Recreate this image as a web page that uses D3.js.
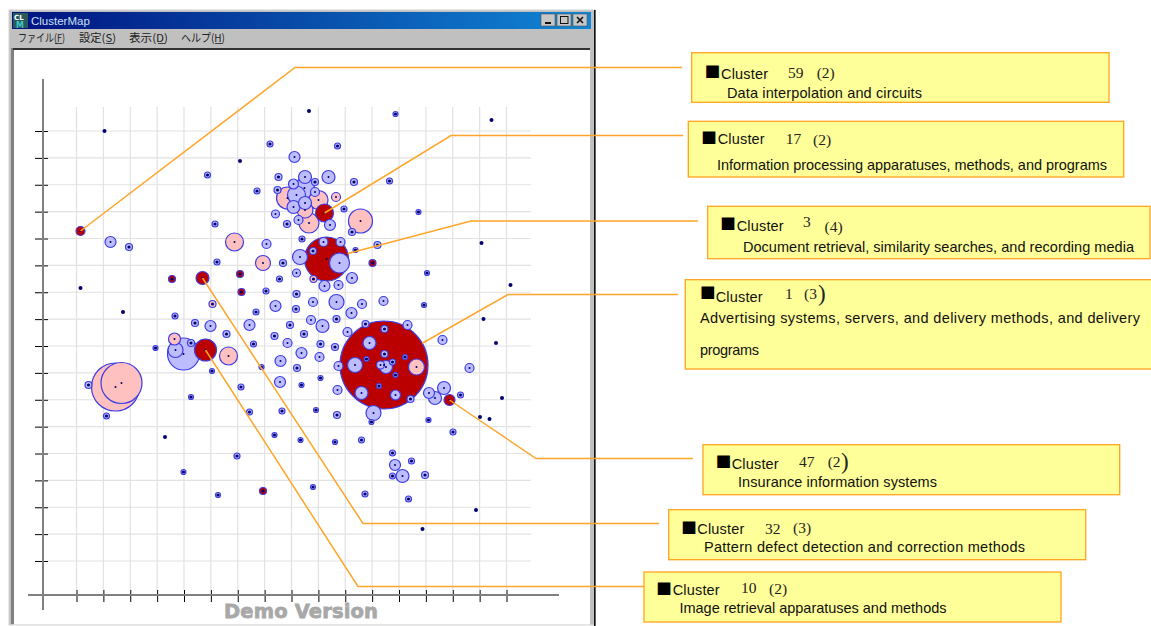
<!DOCTYPE html>
<html>
<head>
<meta charset="utf-8">
<title>ClusterMap</title>
<script src="https://cdn.jsdelivr.net/npm/d3@7"></script>
<style>
  html, body { margin: 0; padding: 0; background: #fff; }
  svg { display: block; }
  .cluster-word, .desc { font-family: "Liberation Sans", Arial, sans-serif; font-size: 14.5px; fill: #111; }
  .num { font-family: "Liberation Serif", serif; font-size: 15.5px; fill: #222; }
  .menu { font-family: "Noto Sans CJK JP", sans-serif; font-size: 11px; fill: #222; }
  .demo { font-family: "DejaVu Sans", sans-serif; font-weight: bold; font-size: 19.5px; fill: #a8a8a8; stroke: #a8a8a8; stroke-width: .8px; }
</style>
</head>
<body>
<svg id="chart" width="1151" height="626"></svg>
<script>
// map positions: [x, y, radius]
const redClusters = [
  [307.5,196,44],[250,302,22],[248,348,9],[129,211,11],[126,283,6.5],[4,330,4.5],[373,161,5.5],
  [95.5,282,3.5],[163.5,287,3.5],[165,269,3.5],[296,298,3.5],[186.5,70,3.5]
]
const pinkClusters = [
  [39,174,24],[45,178,20.5],[158,319,9],[186.5,298,7.5],[98,222,6],[152,205,9],[136,257,3.5],
  [284,340,12],[232.5,338,10],[211,363,11],[242,361,9.5],[259.5,364,4.5],[340,194,8],[237,282,3.5],[228.5,351,8]
]
const blueClusters = [
  [218,404,5.5],[202,384,3.5],[201,371,3.5],[199,347,4],[210.5,337,3.5],[228.5,384,6.5],[252,384,6.5],
  [238.5,379,3.5],[277.5,379,3.5],[228,373,10],[217,377,5],[220,366,9],[238.5,369,4.5],[217,354,6.5],
  [228.5,358,6.5],[222,341,4.5],[253.5,336,5.5],[267.5,352,3],[275.5,329,3.5],[261,415,3],
  [193.5,417,3],[131,386,3],[180.5,370,3],[319,447,2.5],[313,380,3],
  [34,319,5.5],[52.5,314,3.5],[138.5,337,3],[190,317,4.5],[140.5,299,3],[206.5,298,3.5],[203,282,3],
  [189.5,270,3],[220,288,4],[220,267,3.5],[219.5,252,3.5],[199,255,5.5],[179.5,249,3],[98.5,245,3],
  [118.5,238,3.5],[134,235,5.5],[173,236,5.5],[213.5,236,3.5],[150,227,3.5],[198,225,3.5],[177,217,3],
  [211,218,4.5],[79,213,2.5],[114.5,218,3.5],[107,207,16],[99,211,7.5],[204,200,5.5],[225,208,5.5],
  [220.5,193,3.5],[185,194,2.5],[135.5,190,2.5],[203.5,179,5.5],[225,176,2.5],[12,176,3.5],[164.5,174,3],
  [114.5,164,2.5],[173,149,3],[205.5,150,3],[30,145,3],
  [225.5,322,3],[223.5,304,7.5],[247,319,4.5],[264,319,4.5],[236.5,310,3.5],[263,298,10],[279,311,2.5],
  [301,316,3.5],[248,275,5.5],[262,276,4.5],[275.5,283,5.5],[236.5,259,4.5],[260,259,7.5],[285.5,257,4.5],
  [275,248,5.5],[234.5,241,4.5],[260,242,3.5],[246,235,6.5],[227.5,227,3.5],[244,217,3.5],[258.5,214,3.5],
  [243,204,4.5],[244,183,2.5],[261,171,4.5],[262,195,4.5],[271,229,4.5],[239.5,151,2.5],[260.5,146,3.5],
  [198,126,2.5],[224,121,2.5],[258.5,119,2.5],[342,349,2.5],[350.5,288,2.5],[347.5,256,2.5],[307,260,4.5],
  [289,237,3.5],[331,236,4.5],[366,221,4.5],[393,193,4.5],[384,166,3],[367.5,173,6.5],[352.5,168,5.5],
  [358.5,163,6.5],[297,148,7.5],[352,141,2.5],
  [308,232,3.5],[293,218,6.5],[308,207,3.5],[290,202,2.5],[328.5,204,2.5],[316,199,3],[278.5,196,7.5],
  [304,196,4],[309.5,194,6.5],[319,186,2.5],[302.5,175,2.5],[285,168,6.5],[319,166,5],[334,162,3.5],
  [295,139,2.5],[107,89,2.5],[160.5,105,3],[141.5,66,2.5],[285,121,3],[376.5,129,3],[316,108,3],
  [335,100,3],[318.5,96,5.5],[316,85,3],[326,85,6.5],[348.5,86,3.5],[236.5,74,2.5],[288.5,67,3],[332,62,3]
]
const tinyClusters = [
  [28,430,2],[163.5,400,2],[232.5,450,2],[415,441,2],[4,273,2],[46.5,249,2],[405,318,2],[434,276,2],
  [407,242,2],[419.5,218,2],[425.5,163,2],[403.5,144,2],[413,142,2],[88.5,124,2],[399.5,51,2],[346,32,2]
]

const calloutIds = ['59', '17', '3', '1', '47', '32', '10']
const calloutCounts = ['(2)', '(2)', '(4)', '(3', '(2', '(3)', '(2)']
const calloutTitles = [
  ['Data interpolation and circuits'],
  ['Information processing apparatuses, methods, and programs'],
  ['Document retrieval, similarity searches, and recording media'],
  ['Advertising systems, servers, and delivery methods, and delivery', 'programs'],
  ['Insurance information systems'],
  ['Pattern defect detection and correction methods'],
  ['Image retrieval apparatuses and methods']
]
const calloutCluster = [5, 2, 1, 0, 6, 4, 3]  // index into redClusters

const menuLabels = ['ファイル(F)', '設定(S)', '表示(D)', 'ヘルプ(H)']
const menuX = [18, 79, 129, 181]
const menuWidth = [47, 37, 39, 44]

// box: x, y, right, bottom. square/word/id/count x and baselines, desc x and baselines + widths, elbow
const boxLayout = [
  { b: [691.7, 52.7, 1109, 102.3], sq: [706.5, 65], w: [721, 78.5], n: [788, 78], c: [816.7, 78], d: [727, [98.3], [195]], elbow: [295, 67.5], end: 682 },
  { b: [688.3, 121.3, 1123.7, 177], sq: [703, 131], w: [717.7, 144], n: [785.7, 143.5], c: [813, 145], d: [717, [170], [390]], elbow: [451, 135.5], end: 683 },
  { b: [707.7, 206.3, 1150, 258.7], sq: [722, 217], w: [736.7, 230.7], n: [803, 227], c: [824.5, 232], d: [743, [252], [391]], elbow: [471, 221], end: 698, edge: true },
  { b: [685.3, 279.7, 1156, 369], sq: [701.7, 286.7], w: [715.7, 302], n: [785, 299], c: [804, 299], d: [700, [323.3, 355], [440, 59]], elbow: [508, 294.5], end: 678, edge: true, paren: [818, 301] },
  { b: [703, 444.7, 1119.7, 494.7], sq: [717.5, 455], w: [731.7, 469], n: [799, 467], c: [827.7, 467], d: [738, [487], [199]], elbow: [536, 458.5], end: 693, paren: [841, 469] },
  { b: [668.7, 509.7, 1085.7, 559.7], sq: [683, 521], w: [697.3, 534], n: [765, 534], c: [793, 533], d: [704, [552], [321]], elbow: [363, 523.5], end: 659 },
  { b: [644, 572, 1061, 622], sq: [658, 582], w: [672.7, 595], n: [741, 593], c: [769, 594], d: [679.5, [613], [267]], elbow: [358, 586.5], end: 644 }
]

const svg = d3.select('#chart')

const x = d3.scaleLinear().domain([0, 430]).range([76.5, 506.5])
const y = d3.scaleLinear().domain([0, 430]).range([561, 131])
const r = d3.scaleLinear().domain([0, 44]).range([0, 44])
const tickVals = d3.range(17).map(i => i * 430 / 16)

// window frame
svg.append('rect').attr('x', 9).attr('y', 10).attr('width', 586).attr('height', 615)
  .attr('fill', '#c0c0c0').attr('stroke', '#d4d4d4')
svg.append('rect').attr('x', 594).attr('y', 10).attr('width', 1.6).attr('height', 616).attr('fill', '#111')
svg.append('rect').attr('x', 11).attr('y', 48).attr('width', 3).attr('height', 576).attr('fill', '#808080')

const defs = svg.append('defs')
const grad = defs.append('linearGradient').attr('id', 'titlebar')
grad.append('stop').attr('offset', 0).attr('stop-color', '#00127f')
grad.append('stop').attr('offset', 1).attr('stop-color', '#1086d4')
// the source is a slightly soft screenshot
defs.append('filter').attr('id', 'soft').append('feGaussianBlur').attr('stdDeviation', 0.35)
svg.append('rect').attr('x', 12).attr('y', 12).attr('width', 579).attr('height', 17).attr('fill', 'url(#titlebar)')

// title icon
svg.append('rect').attr('x', 13).attr('y', 13).attr('width', 15).attr('height', 15).attr('fill', '#2a5a5a')
svg.append('text').attr('x', 14).attr('y', 20).attr('font-family', 'DejaVu Sans').attr('font-weight', 'bold')
  .attr('font-size', 7).attr('fill', '#fff').text('CL')
svg.append('text').attr('x', 16).attr('y', 27.5).attr('font-family', 'DejaVu Sans').attr('font-weight', 'bold')
  .attr('font-size', 8).attr('fill', '#38c8c8').text('M')
svg.append('text').attr('x', 31).attr('y', 25).attr('font-family', 'Liberation Sans').attr('font-size', 11.5)
  .attr('fill', '#cfe0f5').text('ClusterMap')

// window buttons
const buttonX = [541, 557, 573]
svg.selectAll('.winbtn').data(buttonX).join('rect').attr('class', 'winbtn')
  .attr('x', d => d).attr('y', 14).attr('width', 14).attr('height', 12)
  .attr('fill', '#c6c6c6').attr('stroke', '#555').attr('stroke-width', .6)
svg.append('rect').attr('x', 545).attr('y', 22).attr('width', 6).attr('height', 2).attr('fill', '#111')
svg.append('rect').attr('x', 560.5).attr('y', 16.5).attr('width', 7.5).attr('height', 7)
  .attr('fill', 'none').attr('stroke', '#111').attr('stroke-width', 1)
svg.append('path').attr('d', 'M577,17L583,23M583,17L577,23').attr('stroke', '#111').attr('stroke-width', 1.6)

// menu, with the underlined access key drawn as a short line
svg.selectAll('.menu').data(menuLabels).join('text').attr('class', 'menu')
  .attr('x', (d, i) => menuX[i]).attr('y', 42)
  .attr('textLength', (d, i) => menuWidth[i]).attr('lengthAdjust', 'spacingAndGlyphs')
  .text(d => d)
svg.selectAll('.menukey').data(menuLabels).join('line').attr('class', 'menukey')
  .attr('x1', (d, i) => menuX[i] + menuWidth[i] - 10).attr('x2', (d, i) => menuX[i] + menuWidth[i] - 3)
  .attr('y1', 43.5).attr('y2', 43.5).attr('stroke', '#222').attr('stroke-width', .8)

// canvas
svg.append('rect').attr('x', 14).attr('y', 49).attr('width', 576).attr('height', 575.5).attr('fill', '#fff')
svg.append('rect').attr('x', 13).attr('y', 48).attr('width', 577).attr('height', 2).attr('fill', '#333')

// grid
const grid = svg.append('g').attr('stroke', '#e2e2e2').attr('stroke-width', 1.2)
grid.selectAll('.gv').data(tickVals).join('line').attr('class', 'gv')
  .attr('x1', d => x(d)).attr('x2', d => x(d)).attr('y1', 107).attr('y2', 590)
grid.selectAll('.gh').data(tickVals).join('line').attr('class', 'gh')
  .attr('y1', d => y(d)).attr('y2', d => y(d)).attr('x1', 48).attr('x2', 531)

// axes
const xAxis = svg.append('g').attr('transform', 'translate(0,595)')
  .call(d3.axisBottom(x).tickValues(tickVals).tickFormat('').tickSize(7).tickSizeOuter(0))
xAxis.select('.domain').remove()
xAxis.selectAll('.tick').append('line').attr('y2', -5).attr('stroke', '#000')
const yAxis = svg.append('g').attr('transform', 'translate(43,0)')
  .call(d3.axisLeft(y).tickValues(tickVals).tickFormat('').tickSize(8).tickSizeOuter(0))
yAxis.select('.domain').remove()
yAxis.selectAll('.tick').append('line').attr('x2', 5).attr('stroke', '#000')
svg.append('line').attr('x1', 43).attr('x2', 43).attr('y1', 79).attr('y2', 610).attr('stroke', '#808080').attr('stroke-width', 2)
svg.append('line').attr('x1', 28).attr('x2', 559).attr('y1', 595).attr('y2', 595).attr('stroke', '#808080').attr('stroke-width', 2)

svg.append('text').attr('class', 'demo').attr('x', 224).attr('y', 618)
  .attr('textLength', 154).text('Demo Version')

// clusters, large ones first so the small ones sit on top
const fills = { red: '#bb0000', pink: '#ffc0c0', blue: '#bcbcff', tiny: '#000070' }
const tag = (rows, kind) => rows.map(d => ({ x: d[0], y: d[1], size: d[2], kind }))
const clusters = [].concat(tag(redClusters, 'red'), tag(pinkClusters, 'pink'), tag(blueClusters, 'blue'), tag(tinyClusters, 'tiny'))
  .sort((a, b) => b.size - a.size)

const marks = svg.append('g').attr('filter', 'url(#soft)')
marks.selectAll('circle.c').data(clusters).join('circle').attr('class', 'c')
  .attr('cx', d => x(d.x)).attr('cy', d => y(d.y)).attr('r', d => r(d.size))
  .attr('fill', d => fills[d.kind])
  .attr('stroke', d => d.kind == 'tiny' ? 'none' : '#3c3ce2')
  .attr('stroke-width', 1.2)
marks.selectAll('circle.dot').data(clusters.filter(d => d.kind != 'tiny')).join('circle').attr('class', 'dot')
  .attr('cx', d => x(d.x)).attr('cy', d => y(d.y))
  .attr('r', d => d.size <= 3.5 ? 1.6 : 1)
  .attr('fill', '#00006a')

// leader lines
const leader = d3.line()
svg.append('g').selectAll('path').data(boxLayout).join('path')
  .attr('fill', 'none').attr('stroke', '#ffa52a').attr('stroke-width', 1.5)
  .attr('d', (b, i) => {
    const c = redClusters[calloutCluster[i]]
    let sx = x(c[0]), sy = y(c[1])
    if (b.edge) {
      const dx = b.elbow[0] - sx, dy = b.elbow[1] - sy, n = Math.hypot(dx, dy)
      sx += dx / n * r(c[2])
      sy += dy / n * r(c[2])
    }
    return leader([[sx, sy], b.elbow, [b.end, b.elbow[1]]])
  })

// callouts
const notes = svg.append('g').selectAll('g').data(boxLayout).join('g')
notes.append('rect')
  .attr('x', d => d.b[0]).attr('y', d => d.b[1])
  .attr('width', d => d.b[2] - d.b[0]).attr('height', d => d.b[3] - d.b[1])
  .attr('fill', '#ffff99').attr('stroke', '#ffa41e').attr('stroke-width', 1.3)
notes.append('text')
  .attr('x', d => d.sq[0] - 1.7).attr('y', d => d.sq[1] + 10.5)
  .attr('font-family', 'DejaVu Sans').attr('font-size', 16.5).attr('fill', '#000').text('■')
notes.append('text').attr('class', 'cluster-word').attr('x', d => d.w[0]).attr('y', d => d.w[1])
  .attr('textLength', 47).text('Cluster')
notes.append('text').attr('class', 'num').attr('x', d => d.n[0]).attr('y', d => d.n[1])
  .text((d, i) => calloutIds[i])
notes.append('text').attr('class', 'num').attr('x', d => d.c[0]).attr('y', d => d.c[1])
  .text((d, i) => calloutCounts[i])
notes.filter(d => d.paren).append('text').attr('class', 'num')
  .attr('x', d => d.paren[0]).attr('y', d => d.paren[1]).style('font-size', '23px').text(')')
notes.each(function(d, i) {
  d3.select(this).selectAll('.desc').data(calloutTitles[i]).join('text').attr('class', 'desc')
    .attr('x', d.d[0]).attr('y', (t, j) => d.d[1][j]).attr('textLength', (t, j) => d.d[2][j]).text(t => t)
})
</script>
</body>
</html>
